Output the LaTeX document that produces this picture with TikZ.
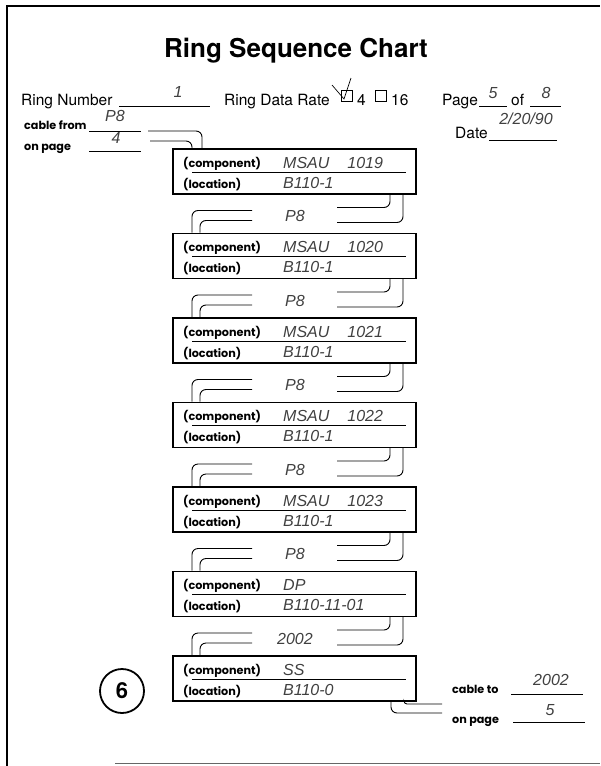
\documentclass[tikz,border=0pt]{standalone}
\usepackage{fontspec}
\setmainfont{TeX Gyre Heros}
\newfontfamily\labfont{Poppins}
\newfontfamily\handfont{Liberation Sans}
\usetikzlibrary{calc}
\begin{document}
\begin{tikzpicture}[x=1pt,y=-1pt,
  txt/.style={font=\fontsize{15.5}{17}\selectfont, anchor=base west, inner sep=0},
  lbl/.style={font=\labfont\bfseries\fontsize{11.2}{12}\selectfont, anchor=base west, inner sep=0},
  hand/.style={font=\handfont\itshape\fontsize{16}{18}\selectfont, text=black!75, anchor=base, inner sep=0},
  rbox/.style={draw, line width=1.5pt, minimum width=243pt, minimum height=45pt, anchor=north west, inner sep=0},
  wire/.style={line width=0.9pt, rounded corners=6pt},
  uline/.style={line width=0.7pt}]
\useasboundingbox (0,0) rectangle (600,766);
% frame
\draw[line width=1.6pt] (7,766) -- (7,6) -- (600,6);
\draw[line width=0.8pt, black!60] (115,763) -- (600,763);
% title
\node[font=\bfseries\fontsize{26}{30}\selectfont, anchor=base, inner sep=0] (title) at (296,57) {Ring Sequence Chart};
% header line
\node[txt] (rn) at (21,105) {Ring Number};
\draw[uline] (119,106) -- (210,106);
\node[hand] (rnv) at (178,97) {1};
\node[txt] (rdr) at (224,105) {Ring Data Rate};
\draw[line width=0.7pt] (341,90) rectangle (352,101);
\draw[line width=0.7pt] (332,85) -- (344,99) -- (351,78);
\node[txt] (r4) at (357,105) {4};
\draw[line width=0.7pt] (375,90) rectangle (386,101);
\node[txt] (r16) at (391,105) {16};
\node[txt] (pg) at (442,105) {Page};
\draw[uline] (479,106) -- (507,106);
\node[hand] (pgv) at (493,98) {5};
\node[txt] (of) at (511,105) {of};
\draw[uline] (530,106) -- (561,106);
\node[hand] (ofv) at (546,98) {8};
\node[txt] (dt) at (455,138) {Date};
\draw[uline] (489,140) -- (557,140);
\node[hand] (dtv) at (526,124) {2/20/90};
% cable from
\node[lbl] (cf) at (24,129) {cable from};
\draw[uline] (89,131) -- (141,131);
\node[hand] (cfv) at (115,121) {P8};
\node[lbl] (op) at (24,150) {on page};
\draw[uline] (89,151) -- (141,151);
\node[hand] (opv) at (116,143) {4};
% boxes
\foreach \i/\comp/\loc in {0/{MSAU\hspace{18pt}1019}/B110-1,1/{MSAU\hspace{18pt}1020}/B110-1,2/{MSAU\hspace{18pt}1021}/B110-1,3/{MSAU\hspace{18pt}1022}/B110-1,4/{MSAU\hspace{18pt}1023}/B110-1,5/{DP}/B110-11-01,6/{SS}/B110-0}{
  \pgfmathsetmacro\T{148+84.5*\i}
  \node[rbox] (b\i) at (172,\T) {};
  \draw[line width=0.7pt] ($(b\i.north west)+(20,24)$) -- ++(214,0);
  \node[lbl] at ($(b\i.north west)+(11,19)$) {(component)};
  \node[lbl] at ($(b\i.north west)+(11,40)$) {(location)};
  \node[hand, anchor=base west] at ($(b\i.north west)+(111,20)$) {\comp};
  \node[hand, anchor=base west] at ($(b\i.north west)+(111,40)$) {\loc};
}
% incoming
\coordinate (ci1) at (148,131);
\coordinate (ci2) at (150,141);
\draw[wire] (ci1) -| ($(b0.north west)+(30,0)$);
\draw[wire] (ci2) -| ($(b0.north west)+(20,0)$);
% links between boxes
\foreach \i/\j/\lab in {0/1/P8,1/2/P8,2/3/P8,3/4/P8,4/5/P8,5/6/2002}{
  \coordinate (ru\i) at ($(b\i.south west)+(165,13)$);
  \coordinate (rl\i) at ($(b\i.south west)+(165,28)$);
  \coordinate (lu\i) at ($(b\i.south west)+(80,16)$);
  \coordinate (ll\i) at ($(b\i.south west)+(80,26)$);
  \draw[wire] ($(b\i.south west)+(218,0)$) |- (ru\i);
  \draw[wire] ($(b\i.south west)+(231,0)$) |- (rl\i);
  \draw[wire] (lu\i) -| ($(b\j.north west)+(20,0)$);
  \draw[wire] (ll\i) -| ($(b\j.north west)+(28,0)$);
  \node[hand] at ($(b\i.south west)+(123,27)$) {\lab};
}
% outgoing
\coordinate (co1) at (442,704);
\coordinate (co2) at (442,713);
\draw[line width=0.9pt, rounded corners=3pt] ($(b6.south west)+(232,0)$) |- (co1);
\draw[wire] ($(b6.south west)+(219,0)$) |- (co2);
\node[lbl] (ct) at (452,693) {cable to};
\draw[uline] (511,694) -- (583,694);
\node[hand] (ctv) at (551,685) {2002};
\node[lbl] (op2) at (452,723) {on page};
\draw[uline] (513,722) -- (585,722);
\node[hand] (op2v) at (550,715) {5};
% circled 6
\node[draw, circle, line width=1.8pt, minimum size=44pt, inner sep=0, font=\bfseries\fontsize{22}{24}\selectfont] (num) at (122,691) {6};
\end{tikzpicture}
\end{document}
